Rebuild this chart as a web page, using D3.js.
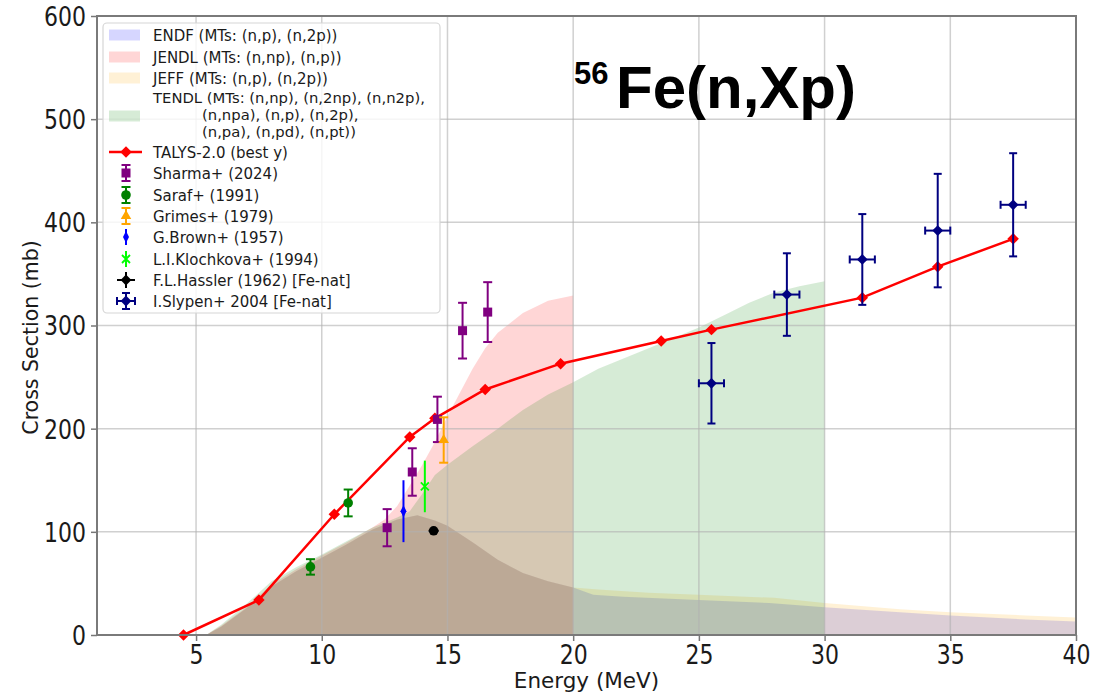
<!DOCTYPE html>
<html>
<head>
<meta charset="utf-8">
<script src="https://cdn.jsdelivr.net/npm/d3@7"></script>
<style>
  body { margin: 0; background: #fff; }
  svg { display: block; }
  text { font-family: "DejaVu Sans", sans-serif; fill: #1a1a1a; }
</style>
</head>
<body>
<svg id="chart" width="1094" height="693"></svg>
<script>
// ---- axis ticks ----
const xTicks = [5, 10, 15, 20, 25, 30, 35, 40];
const yTicks = [0, 100, 200, 300, 400, 500, 600];

// ---- evaluated libraries (MeV, mb) ----
const endfE  = [5.4, 6, 7, 8, 9, 10, 11, 12, 13, 13.8, 14.5, 15, 16, 17, 18, 19, 20, 20.8, 22, 25, 27.8, 30, 33, 35, 38, 40];
const endfXS = [0, 8, 26, 47, 62, 75, 88, 102, 112, 116, 111, 106, 90, 73, 60, 52, 46, 39, 37, 34, 31, 27, 22, 19, 15, 13];

const jendlE  = [5.4, 6, 7, 8, 9, 10, 11, 12, 12.5, 13, 13.5, 14, 14.5, 15, 15.5, 16, 16.5, 17, 18, 19, 20];
const jendlXS = [0, 9, 27, 49, 64, 77, 90, 104, 112, 125, 145, 165, 187, 212, 235, 258, 278, 293, 312, 324, 329];

const jeffE  = [5.4, 6, 7, 8, 9, 10, 11, 12, 13, 13.8, 14.5, 15, 16, 17, 18, 19, 20, 21, 23, 25, 28, 30, 33, 35, 38, 40];
const jeffXS = [0, 8, 26, 47, 62, 75, 88, 102, 112, 116, 111, 106, 90, 73, 60, 52, 46, 44, 41, 39, 36, 31, 25, 22, 19, 17];

const tendlE  = [5.4, 6, 7, 8, 9, 10, 11, 12, 13, 13.5, 14, 14.5, 15, 16, 17, 18, 19, 20, 21, 22, 23, 24, 25, 26, 27, 28, 29, 30];
const tendlXS = [0, 10, 30, 52, 66, 78, 91, 104, 114, 120, 137, 155, 165, 183, 200, 218, 233, 245, 258, 268, 278, 288, 298, 310, 322, 332, 338, 343];

// ---- TALYS-2.0 ----
const talysE  = [4.5, 7.5, 10.5, 13.5, 14.5, 16.5, 19.5, 23.5, 25.5, 31.5, 34.5, 37.5];
const talysXS = [0, 34, 117, 192, 210, 238, 263, 285, 296, 327, 357, 384];

// ---- measurements ----
const sharmaE = [12.6, 13.6, 14.6, 15.6, 16.6];
const sharmaXS = [104, 158, 209, 295, 313];
const sharmaErr = [18, 23, 22, 27, 29];

const sarafE = [9.55, 11.05];
const sarafXS = [66, 128];
const sarafErr = [7.5, 13];

const grimesE = [14.85];
const grimesXS = [189];
const grimesErr = [22];

const brownE = [13.25];
const brownXS = [120];
const brownErr = [30];

const klochE = [14.1];
const klochXS = [144];
const klochErr = [25];

const hasslerE = [14.45];
const hasslerXS = [101];
const hasslerErr = [2];
const hasslerXErr = [0.2];

const slypenE = [25.5, 28.5, 31.5, 34.5, 37.5];
const slypenXS = [244, 330, 364, 392, 417];
const slypenErr = [39, 40, 44, 55, 50];
const slypenXErr = [0.5, 0.5, 0.5, 0.5, 0.5];

// ---- legend labels ----
const fillLabels = [
  ["ENDF (MTs: (n,p), (n,2p))"],
  ["JENDL (MTs: (n,np), (n,p))"],
  ["JEFF (MTs: (n,p), (n,2p))"],
  ["TENDL (MTs: (n,np), (n,2np), (n,n2p),", "(n,npa), (n,p), (n,2p),", "(n,pa), (n,pd), (n,pt))"]
];
const fillColors = ["blue", "red", "orange", "green"];
const talysLabel = "TALYS-2.0 (best y)";
const expLabels = ["Sharma+ (2024)", "Saraf+ (1991)", "Grimes+ (1979)", "G.Brown+ (1957)",
                   "L.I.Klochkova+ (1994)", "F.L.Hassler (1962) [Fe-nat]", "I.Slypen+ 2004 [Fe-nat]"];

const svg = d3.select("#chart");
const L = 97, R = 1076, T = 16, B = 635;
const x = d3.scaleLinear().domain([1.06, 40]).range([L, R]);
const y = d3.scaleLinear().domain([0, 600]).range([B, T]);

// text placed at (tx, ty) and stretched vertically by sy
function label(g, tx, ty, str, size, sy, anchor) {
  return g.append("text")
    .attr("transform", `translate(${tx},${ty}) scale(1,${sy})`)
    .attr("text-anchor", anchor || "start")
    .style("font-size", size + "px")
    .text(str);
}

svg.append("rect").attr("width", 1094).attr("height", 693).attr("fill", "#fff");

// title line above the axes, mostly outside the canvas
svg.append("clipPath").attr("id", "titleClip")
  .append("rect").attr("x", 0).attr("y", 5).attr("width", 1094).attr("height", 10);
label(svg, (L + R) / 2, 10, "(n,Xp) Cross Sections on 56Fe (E < 40 MeV)", 14, 1, "middle")
  .attr("clip-path", "url(#titleClip)").style("fill", "#9a9a9a");

const plot = svg.append("g");
plot.append("clipPath").attr("id", "plotClip")
  .append("rect").attr("x", L).attr("y", T).attr("width", R - L).attr("height", B - T);

// filled libraries
const libs = [[endfE, endfXS], [jendlE, jendlXS], [jeffE, jeffXS], [tendlE, tendlXS]];
const area = d3.area().x(d => x(d[0])).y0(y(0)).y1(d => y(d[1]));
const fills = plot.append("g").attr("clip-path", "url(#plotClip)");
libs.forEach(([E, V], i) => {
  fills.append("path")
    .datum(E.map((e, k) => [e, V[k]]))
    .attr("d", area)
    .attr("fill", fillColors[i]).attr("fill-opacity", 0.16);
});

// grid
const grid = plot.append("g");
grid.selectAll("line.gx").data(xTicks).join("line")
  .attr("x1", d => x(d)).attr("x2", d => x(d)).attr("y1", T).attr("y2", B)
  .attr("stroke", "#b0b0b0").attr("stroke-opacity", 0.6).attr("stroke-width", 1.5);
grid.selectAll("line.gy").data(yTicks).join("line")
  .attr("x1", L).attr("x2", R).attr("y1", d => y(d)).attr("y2", d => y(d))
  .attr("stroke", "#b0b0b0").attr("stroke-opacity", 0.6).attr("stroke-width", 1.5);

// marker shapes
const diamond = s => d3.symbol().type(d3.symbolSquare).size(s)();
function marker(g, kind, cx, cy, color) {
  if (kind === "D") {
    g.append("path").attr("d", diamond(58))
      .attr("transform", `translate(${cx},${cy}) rotate(45)`).attr("fill", color);
  } else if (kind === "Dbig") {
    g.append("path").attr("d", diamond(66))
      .attr("transform", `translate(${cx},${cy}) rotate(45)`).attr("fill", color);
  } else if (kind === "s") {
    g.append("rect").attr("x", cx - 4.5).attr("y", cy - 4.5).attr("width", 9).attr("height", 9).attr("fill", color);
  } else if (kind === "o") {
    g.append("circle").attr("cx", cx).attr("cy", cy).attr("r", 4.8).attr("fill", color);
  } else if (kind === "^") {
    g.append("path").attr("d", d3.symbol().type(d3.symbolTriangle).size(48)())
      .attr("transform", `translate(${cx},${cy})`).attr("fill", color);
  } else if (kind === "d") {
    g.append("path").attr("d", "M0,-6L3,0L0,6L-3,0Z")
      .attr("transform", `translate(${cx},${cy})`).attr("fill", color);
  } else if (kind === "x") {
    g.append("path").attr("d", "M-4,-4L4,4M-4,4L4,-4")
      .attr("transform", `translate(${cx},${cy})`).attr("stroke", color).attr("stroke-width", 1.8);
  } else if (kind === "h") {
    g.append("circle").attr("cx", cx).attr("cy", cy).attr("r", 4.8).attr("fill", color);
  }
}

// TALYS line
const line = d3.line().x(d => x(d[0])).y(d => y(d[1]));
const talys = talysE.map((e, i) => [e, talysXS[i]]);
const tg = plot.append("g");
tg.append("path").datum(talys).attr("d", line)
  .attr("fill", "none").attr("stroke", "red").attr("stroke-width", 2.5);
talys.forEach(d => marker(tg, "Dbig", x(d[0]), y(d[1]), "red"));

// error bar series
const series = [
  { E: sharmaE, V: sharmaXS, err: sharmaErr, color: "purple", m: "s", cap: 4.5 },
  { E: sarafE, V: sarafXS, err: sarafErr, color: "green", m: "o", cap: 4.5 },
  { E: grimesE, V: grimesXS, err: grimesErr, color: "orange", m: "^", cap: 4.5 },
  { E: brownE, V: brownXS, err: brownErr, color: "blue", m: "d", cap: 0 },
  { E: klochE, V: klochXS, err: klochErr, color: "lime", m: "x", cap: 0 },
  { E: hasslerE, V: hasslerXS, err: hasslerErr, xerr: hasslerXErr, color: "black", m: "h", cap: 0 },
  { E: slypenE, V: slypenXS, err: slypenErr, xerr: slypenXErr, color: "navy", m: "D", cap: 4 }
];
const eg = plot.append("g");
series.forEach(s => {
  s.E.forEach((e, i) => {
    const cx = x(e), cy = y(s.V[i]);
    const y1 = y(s.V[i] + s.err[i]), y2 = y(s.V[i] - s.err[i]);
    eg.append("line").attr("x1", cx).attr("x2", cx).attr("y1", y1).attr("y2", y2)
      .attr("stroke", s.color).attr("stroke-width", 2);
    if (s.cap) {
      [y1, y2].forEach(yy => eg.append("line").attr("x1", cx - s.cap).attr("x2", cx + s.cap)
        .attr("y1", yy).attr("y2", yy).attr("stroke", s.color).attr("stroke-width", 2));
    }
    if (s.xerr) {
      const x1 = x(e - s.xerr[i]), x2 = x(e + s.xerr[i]);
      eg.append("line").attr("x1", x1).attr("x2", x2).attr("y1", cy).attr("y2", cy)
        .attr("stroke", s.color).attr("stroke-width", 2);
      if (s.cap) {
        [x1, x2].forEach(xx => eg.append("line").attr("x1", xx).attr("x2", xx)
          .attr("y1", cy - s.cap).attr("y2", cy + s.cap).attr("stroke", s.color).attr("stroke-width", 2));
      }
    }
    marker(eg, s.m, cx, cy, s.color);
  });
});

// axes
const xAxis = d3.axisBottom(x).tickValues(xTicks).tickSize(6).tickPadding(6);
const yAxis = d3.axisLeft(y).tickValues(yTicks).tickSize(6).tickPadding(6);
const gx = svg.append("g").attr("transform", `translate(0,${B})`).call(xAxis);
const gy = svg.append("g").attr("transform", `translate(${L},0)`).call(yAxis);
[gx, gy].forEach(g => {
  g.select(".domain").remove();
  g.selectAll(".tick line").attr("stroke", "#777").attr("stroke-width", 1.5);
  g.selectAll(".tick text").style("font-size", "22px").style("font-family", "DejaVu Sans").attr("fill", "#1a1a1a");
});
// stretch tick labels vertically about their anchor
gx.selectAll(".tick text").attr("y", null).attr("dy", null)
  .attr("transform", "translate(0,29) scale(1,1.2)");
gy.selectAll(".tick text").attr("x", null).attr("dy", "0.35em")
  .attr("transform", "translate(-11,0) scale(1,1.22)");

// frame
svg.append("rect").attr("x", L).attr("y", T).attr("width", R - L).attr("height", B - T)
  .attr("fill", "none").attr("stroke", "#7a7a7a").attr("stroke-width", 2);

// axis titles
label(svg, (L + R) / 2, 688, "Energy (MeV)", 21.5, 1.02, "middle");
svg.append("text").attr("transform", `translate(38,${(T + B) / 2 + 12}) rotate(-90)`)
  .attr("text-anchor", "middle").style("font-size", "20.5px").text("Cross Section (mb)");

// legend
const lg = svg.append("g");
lg.append("rect").attr("x", 103).attr("y", 23).attr("width", 337).attr("height", 290).attr("rx", 4)
  .attr("fill", "#fff").attr("fill-opacity", 0.8).attr("stroke", "#d6d6d6").attr("stroke-width", 1.2);
const fillRows = [35, 57, 78, 116];
const LS = 1.05;
fillLabels.forEach((lab, i) => {
  lg.append("rect").attr("x", 109).attr("y", fillRows[i] - 5.5).attr("width", 31).attr("height", 11)
    .attr("fill", fillColors[i]).attr("fill-opacity", 0.16);
  if (lab.length === 1) {
    label(lg, 153, fillRows[i] + 6, lab[0], 15, LS);
  } else {
    const ys = [98, 115, 132];
    lab.forEach((t, k) => label(lg, k === 0 ? 153 : 202, ys[k] + 5, t, 14.8, 1));
  }
});
// TALYS handle
lg.append("line").attr("x1", 109).attr("x2", 142).attr("y1", 152).attr("y2", 152)
  .attr("stroke", "red").attr("stroke-width", 2.5);
marker(lg, "Dbig", 126, 152, "red");
label(lg, 153, 158, talysLabel, 15, LS);
// measurement handles
const expRows = [173, 195, 216, 237, 259, 280, 301];
series.forEach((s, i) => {
  const cy = expRows[i], cx = 126;
  lg.append("line").attr("x1", cx).attr("x2", cx).attr("y1", cy - 8).attr("y2", cy + 8)
    .attr("stroke", s.color).attr("stroke-width", 2);
  if (s.cap) {
    [cy - 8, cy + 8].forEach(yy => lg.append("line").attr("x1", cx - s.cap).attr("x2", cx + s.cap)
      .attr("y1", yy).attr("y2", yy).attr("stroke", s.color).attr("stroke-width", 2));
  }
  if (s.xerr) {
    lg.append("line").attr("x1", cx - 9).attr("x2", cx + 9).attr("y1", cy).attr("y2", cy)
      .attr("stroke", s.color).attr("stroke-width", 2);
    if (s.cap) {
      [cx - 9, cx + 9].forEach(xx => lg.append("line").attr("x1", xx).attr("x2", xx)
        .attr("y1", cy - s.cap).attr("y2", cy + s.cap).attr("stroke", s.color).attr("stroke-width", 2));
    }
  }
  marker(lg, s.m === "h" ? "D" : s.m, cx, cy, s.color);
  label(lg, 153, cy + 6, expLabels[i], 15, LS);
});

// reaction label
const rx = svg.append("text").attr("x", 574).attr("y", 84)
  .style("font-family", "'Liberation Sans', Arial, sans-serif").style("font-weight", "bold").style("fill", "#000");
rx.append("tspan").style("font-size", "31px").text("56");
rx.append("tspan").attr("x", 616).attr("y", 108).style("font-size", "60px").text("Fe(n,Xp)");
</script>
</body>
</html>
